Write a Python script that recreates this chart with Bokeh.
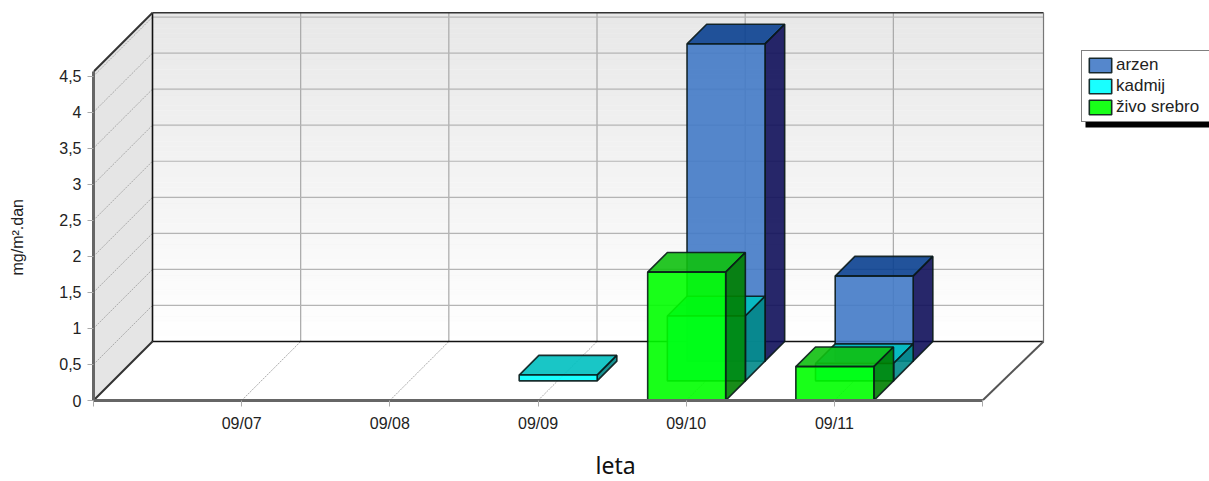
from bokeh.plotting import figure
from bokeh.embed import file_html
from bokeh.resources import INLINE
from bokeh.models import (Range1d, FixedTicker, Legend, LegendItem, Title, BoxAnnotation)

categories = ["09/07", "09/08", "09/09", "09/10", "09/11"]
arzen = [0, 0, 0, 4.40, 1.18]
kadmij = [0, 0, 0.08, 0.90, 0.24]
zivo = [0, 0, 0, 1.78, 0.47]
y_ticks = [0, 0.5, 1, 1.5, 2, 2.5, 3, 3.5, 4, 4.5]
y_labels = ["0", "0,5", "1", "1,5", "2", "2,5", "3", "3,5", "4", "4,5"]

W, H = 1209, 481
FL, FB = 93, 81
FH = H - FB
PX, PY = 148.17, 72.1
DEPTH = 59.0 / PX          # full floor depth, x units
DEPTHY = 59.0 / PY         # full floor depth, y units
N = len(categories) + 1
YTOP = 4.56
BW = 78 / PX
WALLR = N + 61 / PX

p = figure(width=W, height=H, output_backend="svg", toolbar_location=None,
           x_range=Range1d(0, (W - FL) / PX), y_range=Range1d(0, FH / PY),
           min_border_left=FL, min_border_right=0, min_border_top=0, min_border_bottom=FB,
           frame_width=W - FL, frame_height=FH,
           background_fill_color="white", border_fill_color="white", outline_line_color=None)
p.grid.visible = False

# back wall gradient
steps = 64
for i in range(steps):
    t0, t1 = i / steps, (i + 1) / steps
    g = int(round(232 + (255 - 232) * (1 - t1)))
    g = f"#{g:02x}{g:02x}{g:02x}"
    p.quad(left=DEPTH, right=WALLR, bottom=DEPTHY + YTOP * t0, top=DEPTHY + YTOP * t1,
           fill_color=g, line_color=g, line_width=0.5)

# left wall
p.patch([0, DEPTH, DEPTH, 0], [0, DEPTHY, YTOP + DEPTHY, YTOP], fill_color="#e5e5e5", line_color=None)

# floor grid lines
for i, c in enumerate(categories):
    x = i + 1
    p.line([x, x + DEPTH], [0, DEPTHY], line_color="#aaaaaa", line_width=1, line_dash="2 1")
    p.line([x + DEPTH, x + DEPTH], [DEPTHY, DEPTHY + YTOP], line_color="#a8a8a8", line_width=1.2)
for y in y_ticks[1:]:
    p.line([0, DEPTH], [y, y + DEPTHY], line_color="#aaaaaa", line_width=1, line_dash="2 1")
    p.line([DEPTH, WALLR], [y + DEPTHY, y + DEPTHY], line_color="#b4b4b4", line_width=1.2)

# frame edges
p.line([DEPTH, DEPTH], [DEPTHY, YTOP + DEPTHY], line_color="#111111", line_width=1.6)
p.line([DEPTH, WALLR], [DEPTHY, DEPTHY], line_color="#111111", line_width=1.6)
p.line([DEPTH, WALLR], [YTOP + DEPTHY, YTOP + DEPTHY], line_color="#333333", line_width=1.6)
p.line([WALLR, WALLR], [DEPTHY, YTOP + DEPTHY], line_color="#777777", line_width=1.2)
p.line([0, DEPTH], [0, DEPTHY], line_color="#333333", line_width=2)
p.line([0, DEPTH], [YTOP, YTOP + DEPTHY], line_color="#333333", line_width=2)
p.line([N, WALLR], [0, DEPTHY], line_color="#555555", line_width=2)


def bars(values, slot, front, top, side):
    """Draw a series in its depth slot. slot 0 is nearest."""
    dx = DEPTH / 3
    dy = DEPTHY / 3
    rend = None
    for i, v in enumerate(values):
        if v <= 0:
            continue
        x0 = i + 1 - BW / 2 + slot * dx + 1 / PX * 0.5
        x1 = x0 + BW
        y0 = slot * dy
        y1 = y0 + v
        kw = dict(fill_alpha=0.9, line_color="#0a1a1a", line_width=1.6, line_alpha=0.9)
        p.patch([x0, x1, x1 + dx, x0 + dx], [y1, y1, y1 + dy, y1 + dy], fill_color=top, **kw)
        p.patch([x1, x1 + dx, x1 + dx, x1], [y0, y0 + dy, y1 + dy, y1], fill_color=side, **kw)
        rend = p.quad(left=x0, right=x1, bottom=y0, top=y1, fill_color=front, **kw)
    return rend


r_a = bars(arzen, 2, "#427ac6", "#0a4090", "#10105a")
r_k = bars(kadmij, 1, "#00ffff", "#00c0c0", "#008888")
r_z = bars(zivo, 0, "#00ff00", "#10c010", "#008000")

# axes
xa = p.xaxis[0]
xa.ticker = FixedTicker(ticks=[i + 1 for i in range(len(categories))] + [0, N])
xa.major_label_overrides = {**{i + 1: c for i, c in enumerate(categories)}, 0: "", N: ""}
xa.bounds = (0, N)
ya = p.yaxis[0]
ya.ticker = FixedTicker(ticks=y_ticks)
ya.major_label_overrides = {t: l for t, l in zip(y_ticks, y_labels)}
ya.bounds = (0, YTOP)
# a blank axis label only widens the axis, so the unit title sits further out
ya.axis_label = " "
ya.axis_label_text_font_size = "16px"
ya.axis_label_standoff = 11
for a in (xa, ya):
    a.axis_line_color = "#666666"
    a.axis_line_width = 3
    a.major_tick_line_color = "#aaaaaa"
    a.major_tick_out = 6
    a.major_tick_in = 0
    a.minor_tick_line_color = None
    a.major_label_text_font = "Liberation Sans"
    a.major_label_text_font_size = "16px"
    a.major_label_text_color = "#222222"
xa.major_label_standoff = 8
ya.major_label_standoff = 6

# legend shadow + legend (page pixels converted to frame-relative)
p.add_layout(BoxAnnotation(left=1085 - FL, right=W - FL, top=FH - 127, bottom=FH - 115,
                           left_units="screen", right_units="screen", top_units="screen",
                           bottom_units="screen", fill_color="black", fill_alpha=1, line_color=None,
                           level="overlay"))
legend = Legend(items=[LegendItem(label="arzen", renderers=[r_a]),
                       LegendItem(label="kadmij", renderers=[r_k]),
                       LegendItem(label="živo srebro", renderers=[r_z])],
                location=(1081 - FL, FH - 122),
                orientation="vertical", glyph_width=28, glyph_height=18, label_standoff=2,
                spacing=1, padding=4, margin=0, label_width=130,
                label_text_font="Liberation Sans", label_text_font_size="17px",
                label_text_color="#222222", border_line_color="black", border_line_width=1.5,
                background_fill_alpha=1, background_fill_color="white")
p.add_layout(legend)

p.add_layout(Title(text="leta", align="left", offset=615 - FL - 20, standoff=24,
                   text_font="Noto Sans", text_font_size="23px", text_font_style="normal",
                   text_color="#111111"), "below")
p.add_layout(Title(text="mg/m².dan", align="left", offset=FH - 275, standoff=0,
                   text_font="Liberation Sans", text_font_size="16px", text_font_style="normal",
                   text_color="#222222"), "left")

open("out.html", "w").write(file_html(p, INLINE))
